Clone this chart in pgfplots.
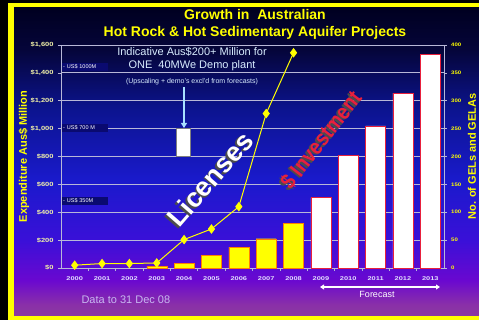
\documentclass[border=0pt]{standalone}
\usepackage{pgfplots}
\pgfplotsset{compat=1.18}
\usepackage{fontspec}
\setmainfont{Liberation Sans}
\usetikzlibrary{arrows.meta}
\definecolor{bgA}{HTML}{000020}
\definecolor{bgB}{HTML}{05053A}
\definecolor{bgC}{HTML}{0C1490}
\definecolor{bgD}{HTML}{1A1ACC}
\definecolor{bgE}{HTML}{3A10D8}
\definecolor{bgF}{HTML}{6A08D0}
\definecolor{bgG}{HTML}{8A30A8}
\definecolor{bgH}{HTML}{8A3AA0}
\definecolor{frameyellow}{HTML}{FFFF00}
\definecolor{titleyellow}{HTML}{FFFF00}
\definecolor{gridc}{HTML}{B8B8D8}
\definecolor{navybox}{HTML}{0A0A70}
\definecolor{annot}{HTML}{D8ECFF}
\definecolor{arrowc}{HTML}{A8E0FF}
\definecolor{invred}{HTML}{E8203C}
\definecolor{lav}{HTML}{C8B8F0}
\definecolor{ticky}{HTML}{F0F0A8}
\definecolor{xtl}{HTML}{E0E0FF}
\pgfdeclareverticalshading{bgshade}{100bp}{color(0bp)=(bgH); color(25bp)=(bgH); color(26.8bp)=(bgG); color(30.8bp)=(bgF); color(37.3bp)=(bgE); color(47.1bp)=(bgD); color(58.4bp)=(bgC); color(68.2bp)=(bgB); color(75bp)=(bgA); color(100bp)=(bgA)}
\begin{document}
\begin{tikzpicture}[x=1pt,y=1pt]
\useasboundingbox (0,0) rectangle (479,320);
\fill[black] (0,0) rectangle (479,320);
\fill[frameyellow] (8,0) rectangle (479,317);
\shade[shading=bgshade] (14,4) rectangle (479,312);
\node[font=\bfseries\fontsize{14}{14}\selectfont, text=titleyellow] at (255,305) {Growth in\ \ Australian};
\node[font=\bfseries\fontsize{14}{14}\selectfont, text=titleyellow] at (255,287) {Hot Rock \& Hot Sedimentary Aquifer Projects};

\begin{axis}[
  at={(61pt,52pt)}, anchor=south west, scale only axis,
  width=383pt, height=223pt,
  xmin=-0.5, xmax=13.5, ymin=0, ymax=1600,
  /pgf/number format/assume math mode=true,
  axis line style={draw=gridc, line width=0.8pt},
  xtick={0,...,13},
  xticklabels={2000,2001,2002,2003,2004,2005,2006,2007,2008,2009,2010,2011,2012,2013},
  xtick pos=bottom,
  xtick style={draw=none},
  extra x ticks={0.5,1.5,...,12.5}, extra x tick labels={},
  extra x tick style={xtick style={draw=gridc, line width=0.6pt}},
  ytick={0,200,...,1600},
  yticklabels={\$0,\$200,\$400,\$600,\$800,\$1{,}000,\$1{,}200,\$1{,}400,\$1{,}600},
  ytick pos=left, tick align=outside, major tick length=3pt,
  ytick style={draw=gridc, line width=0.6pt},
  ymajorgrids, grid style={draw=gridc, line width=0.8pt},
  yticklabel style={font=\bfseries\fontsize{6}{6}\selectfont, text=ticky, xscale=1.25},
  xticklabel style={font=\bfseries\fontsize{5.5}{5.5}\selectfont, text=xtl, xscale=1.35, yshift=-2pt},
  ylabel={Expenditure Aus\$ Million},
  every axis y label/.style={at={(axis description cs:-0.0966,0.5)}, rotate=90, anchor=center, font=\bfseries\fontsize{11}{11}\selectfont, text=titleyellow},
  clip=false,
]
\addplot[ybar, bar width=20pt, fill=frameyellow, draw=orange, line width=0.4pt] coordinates {(3,12) (4,35) (5,90) (6,150) (7,210) (8,320)};
\addplot[ybar, bar width=20pt, fill=white, draw=invred, line width=0.6pt] coordinates {(9,505) (10,810) (11,1020) (12,1255) (13,1530)};
\addplot[fill=white, draw=gray, line width=0.3pt] coordinates {(3.71,800) (4.22,800) (4.22,1000) (3.71,1000)} -- cycle;
\end{axis}

\begin{axis}[
  at={(61pt,52pt)}, anchor=south west, scale only axis,
  width=383pt, height=223pt,
  xmin=-0.5, xmax=13.5, ymin=0, ymax=400,
  /pgf/number format/assume math mode=true,
  axis y line*=right, axis x line=none,
  axis line style={draw=gridc, line width=0.8pt},
  ytick={0,50,...,400},
  tick align=outside, major tick length=3pt,
  ytick style={draw=gridc, line width=0.6pt},
  yticklabel style={font=\bfseries\fontsize{5}{5}\selectfont, text=titleyellow, xscale=1.2},
  ylabel={No. of GELs and GELAs},
  every axis y label/.style={at={(axis description cs:1.0731,0.5)}, rotate=90, anchor=center, font=\bfseries\fontsize{11}{11}\selectfont, text=titleyellow},
  clip=false,
]
\addplot[titleyellow, line width=1pt, mark=diamond*, mark size=4pt, mark options={fill=titleyellow, draw=titleyellow}] coordinates {(0,5) (1,8) (2,8) (3,9) (4,51) (5,70) (6,110) (7,277) (8,386)};
\end{axis}

% US$ equivalents
\foreach \yy/\tt in {253/{- US\$ 1000M}, 192/{- US\$ 700 M}, 119.3/{- US\$ 350M}}{
  \node[anchor=west, fill=navybox, inner sep=1pt, text width=44pt, minimum height=8pt, text=white, font=\fontsize{5.5}{5.5}\selectfont] at (62,\yy) {\tt};
}
% annotation
\node[text=annot, font=\fontsize{11}{11}\selectfont] at (192,268) {Indicative Aus\$200+ Million for};
\node[text=annot, font=\fontsize{11}{11}\selectfont] at (192,254) {ONE\ \ 40MWe Demo plant};
\node[text=annot, font=\fontsize{7}{7}\selectfont] at (192,238) {(Upscaling + demo's excl'd from forecasts)};
\draw[arrowc, line width=1.3pt, -{Triangle[length=5pt,width=6pt]}] (184,233) -- (184,192);

% big rotated words
\node[rotate=49, text=gray!60!black, font=\bfseries\fontsize{27}{27}\selectfont] at (208.3,139.3) {Licenses};
\node[rotate=49, text=white, font=\bfseries\fontsize{27}{27}\selectfont] at (210,141) {Licenses};
\node[rotate=52, xscale=0.87, text=gray!60!black, font=\bfseries\fontsize{22}{22}\selectfont] at (319.3,178.3) {\$ Investment};
\node[rotate=52, xscale=0.87, text=invred, font=\bfseries\fontsize{22}{22}\selectfont] at (321,180) {\$ Investment};

% footer
\node[anchor=west, text=lav, font=\fontsize{11}{11}\selectfont] at (78,20) {Data to 31 Dec 08};
\node[text=white, font=\fontsize{9}{9}\selectfont] at (377,26) {Forecast};
\draw[white, line width=1.2pt, {Triangle[length=4pt,width=5pt]}-{Triangle[length=4pt,width=5pt]}] (320,33) -- (440,33);
\end{tikzpicture}
\end{document}
